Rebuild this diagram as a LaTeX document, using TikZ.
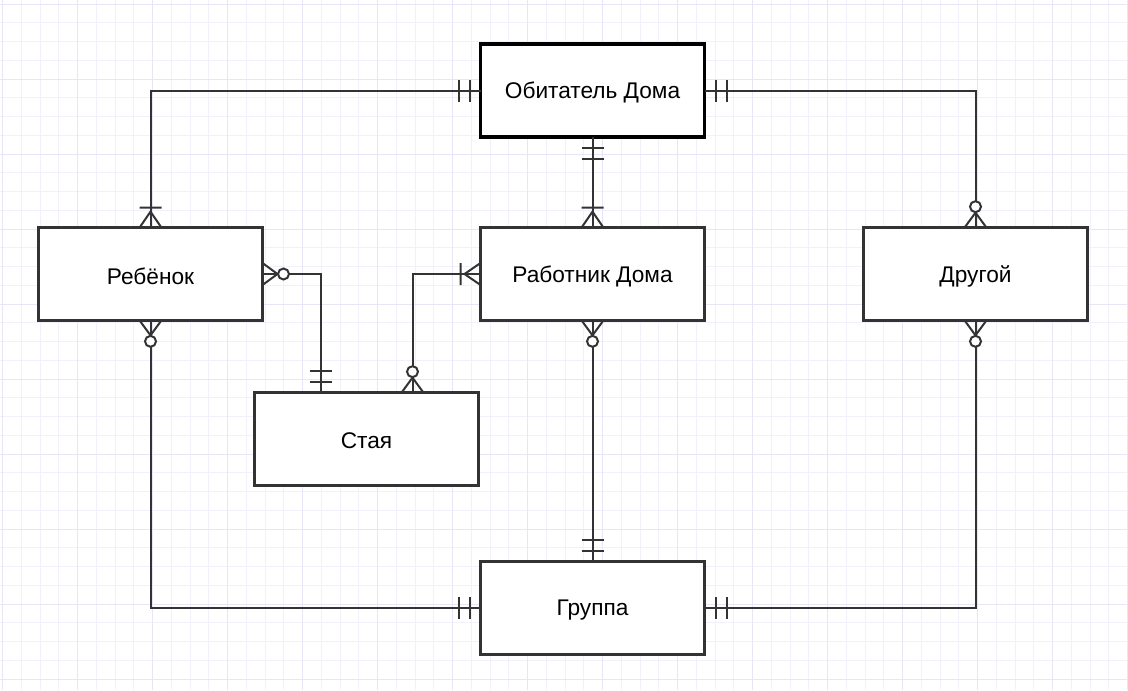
\documentclass[tikz,border=0pt]{standalone}
\usepackage{fontspec}
\setmainfont{Liberation Sans}
\usetikzlibrary{calc}
\definecolor{c33}{HTML}{333333}
\definecolor{gminor}{HTML}{F1F1FB}
\definecolor{gmajor}{HTML}{E6E6F7}
\tikzset{
  entity/.style={draw=c33, line width=2.25pt, fill=white, minimum width=168pt, minimum height=69.5pt, inner sep=0pt, outer sep=0pt, font=\fontsize{17}{20}\selectfont, text=black},
  conn/.style={line width=1.5pt, draw=c33},
  mandone/.pic={\draw[conn] (11,-11)--(11,11) (22,-11)--(22,11);},
  onemany/.pic={\draw[conn] (0,-11)--(16,0)--(0,11) (20,-11)--(20,11);},
  zeromany/.pic={\draw[conn] (0,-11)--(15,0)--(0,11); \draw[conn,fill=white] (21,0) circle[radius=5.5];},
}
\newcommand{\lowtext}[1]{\raisebox{-1.6pt}[\height][\depth]{#1}}
\begin{document}
\begin{tikzpicture}[x=0.75pt,y=-0.75pt]
\useasboundingbox (0,0) rectangle (1128,690);
\fill[white] (0,0) rectangle (1128,690);
% grid
\foreach \i in {0,...,60} {
  \draw[gminor, line width=0.75pt] (2.5+18.75*\i,0) -- ++(0,690);
}
\foreach \i in {0,...,37} {
  \draw[gminor, line width=0.75pt] (0,4.2+18.75*\i) -- ++(1128,0);
}
\foreach \i in {0,...,15} {
  \draw[gmajor, line width=0.75pt] (2.5+75*\i,0) -- ++(0,690);
}
\foreach \i in {0,...,9} {
  \draw[gmajor, line width=0.75pt] (0,4.2+75*\i) -- ++(1128,0);
}
% entities
\node[entity, draw=black, line width=2.6pt] (obit) at (592.5,90.5) {\lowtext{Обитатель Дома}};
\node[entity] (reb) at (150.5,274) {\lowtext{Ребёнок}};
\node[entity] (rab) at (592.5,274) {\lowtext{Работник Дома}};
\node[entity] (drug) at (975.5,274) {\lowtext{Другой}};
\node[entity] (staya) at (366.5,439) {\lowtext{Стая}};
\node[entity] (grp) at (592.5,608) {\lowtext{Группа}};
\coordinate (s1) at ($(staya.north west)+(66,0)$);
\coordinate (s2) at ($(staya.north west)+(158,0)$);
% connectors
\draw[conn] (obit.west) -| (reb.north);
\draw[conn] (obit.east) -| (drug.north);
\draw[conn] (obit.south) -- (rab.north);
\draw[conn] (reb.east) -| (s1);
\draw[conn] (rab.west) -| (s2);
\draw[conn] (reb.south) |- (grp.west);
\draw[conn] (rab.south) -- (grp.north);
\draw[conn] (drug.south) |- (grp.east);
% markers
\path (obit.west) pic[rotate=180] {mandone};
\path (reb.north) pic[rotate=90] {onemany};
\path (obit.east) pic {mandone};
\path (drug.north) pic[rotate=90] {zeromany};
\path (obit.south) pic[rotate=-90] {mandone};
\path (rab.north) pic[rotate=90] {onemany};
\path (reb.east) pic {zeromany};
\path (s1) pic[rotate=90] {mandone};
\path (rab.west) pic[rotate=180] {onemany};
\path (s2) pic[rotate=90] {zeromany};
\path (reb.south) pic[rotate=-90] {zeromany};
\path (grp.west) pic[rotate=180] {mandone};
\path (rab.south) pic[rotate=-90] {zeromany};
\path (grp.north) pic[rotate=90] {mandone};
\path (drug.south) pic[rotate=-90] {zeromany};
\path (grp.east) pic {mandone};
\end{tikzpicture}
\end{document}
